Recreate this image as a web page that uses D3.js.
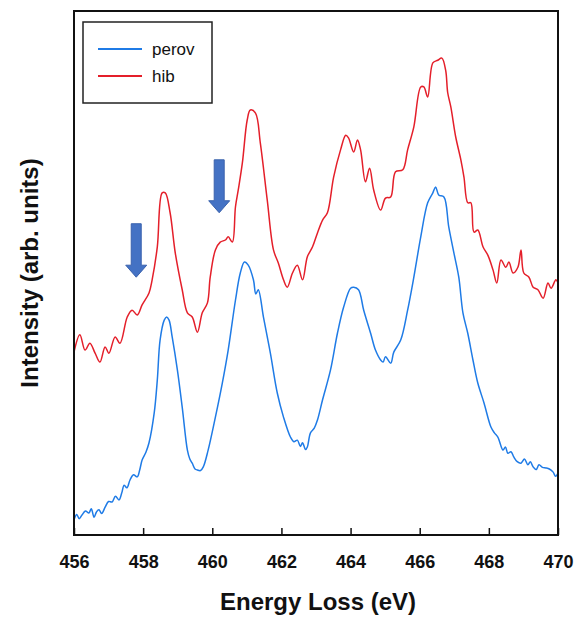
<!DOCTYPE html>
<html>
<head>
<meta charset="utf-8">
<script src="https://cdn.jsdelivr.net/npm/d3@7"></script>
<style>
  body { margin: 0; background: #fff; }
  text { font-family: Arial, "Liberation Sans", sans-serif; }
</style>
</head>
<body>
<svg id="chart" width="578" height="619"></svg>
<script>
// energy loss (eV), intensity (arb. units)
const perov = [
  [456.00, 2.9], [456.08, 3.9], [456.15, 3.1], [456.23, 3.8], [456.33, 4.6], [456.43, 4.2],
  [456.50, 5.0], [456.58, 3.4], [456.65, 4.4], [456.72, 4.8], [456.80, 4.1], [456.90, 5.3],
  [457.00, 6.4], [457.10, 6.3], [457.20, 7.4], [457.30, 6.7], [457.38, 8.0], [457.45, 9.5],
  [457.53, 9.0], [457.62, 10.5], [457.72, 11.5], [457.83, 11.1], [457.90, 12.4], [457.97, 14.3],
  [458.08, 15.8], [458.17, 17.6], [458.32, 23.3], [458.41, 29.6], [458.49, 37.2], [458.61, 41.0],
  [458.68, 41.6], [458.75, 41.0], [458.84, 37.8], [458.99, 31.5], [459.13, 24.4], [459.28, 16.2],
  [459.35, 14.5], [459.42, 13.7], [459.50, 12.6], [459.57, 12.4], [459.66, 12.3], [459.74, 13.0],
  [459.88, 16.2], [460.09, 22.5], [460.29, 29.0], [460.46, 35.3], [460.67, 44.8], [460.81, 50.0],
  [460.93, 52.1], [461.04, 51.5], [461.19, 48.7], [461.26, 46.0], [461.33, 46.8], [461.48, 41.6],
  [461.68, 34.7], [461.88, 27.1], [462.06, 22.5], [462.26, 18.7], [462.36, 17.8], [462.46, 18.1],
  [462.55, 16.9], [462.61, 17.6], [462.70, 16.3], [462.75, 16.8], [462.84, 19.5], [462.95, 20.4],
  [463.04, 21.9], [463.19, 25.8], [463.42, 31.5], [463.62, 38.5], [463.80, 43.5], [464.00, 47.1],
  [464.09, 47.3], [464.23, 46.8], [464.38, 42.9], [464.58, 38.5], [464.72, 35.3], [464.87, 33.4],
  [464.94, 33.0], [465.01, 34.0], [465.16, 32.8], [465.25, 34.9], [465.45, 37.2], [465.65, 42.9],
  [465.83, 49.2], [466.03, 56.9], [466.23, 63.4], [466.38, 65.3], [466.46, 66.4], [466.55, 64.9],
  [466.70, 64.5], [466.84, 58.8], [466.99, 53.8], [467.13, 49.2], [467.25, 42.4], [467.39, 38.5],
  [467.54, 33.4], [467.68, 29.0], [467.86, 25.2], [468.06, 20.6], [468.16, 19.5], [468.26, 18.7],
  [468.41, 16.2], [468.48, 16.8], [468.55, 15.6], [468.64, 15.9], [468.72, 14.9], [468.82, 14.0],
  [468.93, 13.7], [469.03, 14.5], [469.13, 13.4], [469.20, 14.0], [469.28, 13.0], [469.37, 12.5],
  [469.45, 13.4], [469.55, 12.9], [469.65, 12.8], [469.75, 12.6], [469.86, 12.0], [469.93, 11.2],
  [470.00, 11.8]
];

const hib = [
  [456.00, 34.9], [456.17, 38.2], [456.32, 35.3], [456.46, 36.6], [456.61, 34.7], [456.75, 33.0],
  [456.90, 35.9], [457.01, 34.7], [457.19, 37.8], [457.33, 36.6], [457.54, 41.6], [457.68, 42.9],
  [457.83, 42.0], [457.97, 43.9], [458.17, 46.2], [458.26, 48.7], [458.41, 55.0], [458.55, 65.3],
  [458.64, 65.3], [458.78, 61.5], [458.93, 53.8], [459.13, 46.8], [459.28, 42.4], [459.42, 41.6],
  [459.57, 38.7], [459.71, 42.4], [459.86, 44.3], [459.94, 49.2], [460.09, 54.4], [460.23, 55.9],
  [460.38, 56.3], [460.46, 56.9], [460.58, 55.9], [460.67, 62.6], [460.75, 65.8], [460.87, 71.0],
  [461.01, 79.2], [461.10, 81.1], [461.25, 80.5], [461.39, 74.8], [461.59, 63.9], [461.77, 54.4],
  [461.91, 51.9], [462.06, 48.7], [462.17, 47.3], [462.32, 50.0], [462.46, 51.5], [462.61, 48.7],
  [462.75, 53.1], [462.90, 55.0], [463.04, 57.6], [463.19, 60.1], [463.33, 61.5], [463.51, 68.3],
  [463.71, 73.5], [463.86, 76.3], [463.94, 75.8], [464.09, 73.1], [464.20, 75.4], [464.29, 73.5],
  [464.43, 67.4], [464.55, 70.0], [464.67, 65.8], [464.87, 62.0], [465.01, 64.3], [465.16, 64.5],
  [465.30, 69.3], [465.51, 69.7], [465.65, 73.5], [465.83, 77.9], [466.03, 85.5], [466.12, 85.5],
  [466.23, 83.6], [466.38, 90.1], [466.52, 90.6], [466.64, 91.0], [466.75, 88.7], [466.81, 84.4],
  [466.90, 81.7], [467.04, 76.0], [467.19, 71.6], [467.28, 68.3], [467.39, 63.4], [467.48, 63.4],
  [467.57, 57.8], [467.68, 58.2], [467.83, 55.0], [467.97, 53.4], [468.12, 50.6], [468.23, 48.1],
  [468.35, 52.5], [468.49, 51.1], [468.58, 52.1], [468.70, 50.0], [468.84, 51.1], [468.93, 54.4],
  [469.01, 50.0], [469.16, 49.2], [469.28, 47.3], [469.42, 46.8], [469.57, 45.2], [469.71, 48.1],
  [469.80, 47.1], [469.94, 48.7], [470.00, 48.1]
];

const seriesNames = ['perov', 'hib'];
const seriesColors = ['#1f7be6', '#e41f2a'];
const xTicks = [456, 458, 460, 462, 464, 466, 468, 470];
// arrows marking the hib pre-edge shoulders: [energy, tip intensity, tail intensity]
const arrows = [[457.80, 49.2, 59.4], [460.20, 61.5, 71.6]];

const svg = d3.select('#chart');
const plot = { left: 74, right: 558, top: 11, bottom: 535 };

const x = d3.scaleLinear().domain([456, 470]).range([plot.left, plot.right]);
const y = d3.scaleLinear().domain([0, 100]).range([plot.bottom, plot.top]);

const line = d3.line()
  .curve(d3.curveCatmullRom.alpha(0.5))
  .x(d => x(d[0]))
  .y(d => y(d[1]));

[perov, hib].forEach((data, i) => {
  svg.append('path')
    .datum(data)
    .attr('d', line)
    .attr('fill', 'none')
    .attr('stroke', seriesColors[i])
    .attr('stroke-width', 1.5)
    .attr('stroke-linejoin', 'round');
});

// block arrows
arrows.forEach(([e, tip, tail]) => {
  const cx = x(e), ty = y(tip), tt = y(tail);
  const hw = 5, headW = 10.5, headH = 12;
  const p = d3.path();
  p.moveTo(cx - hw, tt);
  p.lineTo(cx + hw, tt);
  p.lineTo(cx + hw, ty - headH);
  p.lineTo(cx + headW, ty - headH);
  p.lineTo(cx, ty);
  p.lineTo(cx - headW, ty - headH);
  p.lineTo(cx - hw, ty - headH);
  p.closePath();
  svg.append('path')
    .attr('d', p.toString())
    .attr('fill', '#4472c4')
    .attr('stroke', '#3a62ad')
    .attr('stroke-width', 1);
});

// frame
svg.append('rect')
  .attr('x', plot.left).attr('y', plot.top)
  .attr('width', plot.right - plot.left).attr('height', plot.bottom - plot.top)
  .attr('fill', 'none')
  .attr('stroke', '#111')
  .attr('stroke-width', 2);

// x axis, ticks pointing inward
const xAxis = svg.append('g')
  .attr('transform', `translate(0,${plot.bottom})`)
  .call(d3.axisBottom(x).tickValues(xTicks).tickSizeInner(-7).tickSizeOuter(0).tickPadding(20));
xAxis.select('.domain').remove();
xAxis.selectAll('line').attr('stroke', '#111').attr('stroke-width', 1.5);
xAxis.selectAll('text')
  .attr('font-size', 18)
  .attr('font-weight', 'bold')
  .attr('fill', '#111');

svg.append('text')
  .attr('x', 318).attr('y', 610)
  .attr('text-anchor', 'middle')
  .attr('font-size', 24)
  .attr('font-weight', 'bold')
  .attr('fill', '#111')
  .text('Energy Loss (eV)');

svg.append('text')
  .attr('transform', `translate(38,${(plot.top + plot.bottom) / 2}) rotate(-90)`)
  .attr('text-anchor', 'middle')
  .attr('font-size', 24)
  .attr('font-weight', 'bold')
  .attr('fill', '#111')
  .text('Intensity (arb. units)');

// legend
const legend = svg.append('g');
legend.append('rect')
  .attr('x', 83).attr('y', 22)
  .attr('width', 129).attr('height', 81)
  .attr('fill', '#fff')
  .attr('stroke', '#222')
  .attr('stroke-width', 1.5);
seriesNames.forEach((name, i) => {
  const ly = 49 + i * 27;
  legend.append('line')
    .attr('x1', 98).attr('x2', 142)
    .attr('y1', ly).attr('y2', ly)
    .attr('stroke', seriesColors[i])
    .attr('stroke-width', 2);
  legend.append('text')
    .attr('x', 152).attr('y', ly + 6)
    .attr('font-size', 17)
    .attr('fill', '#111')
    .text(name);
});
</script>
</body>
</html>
